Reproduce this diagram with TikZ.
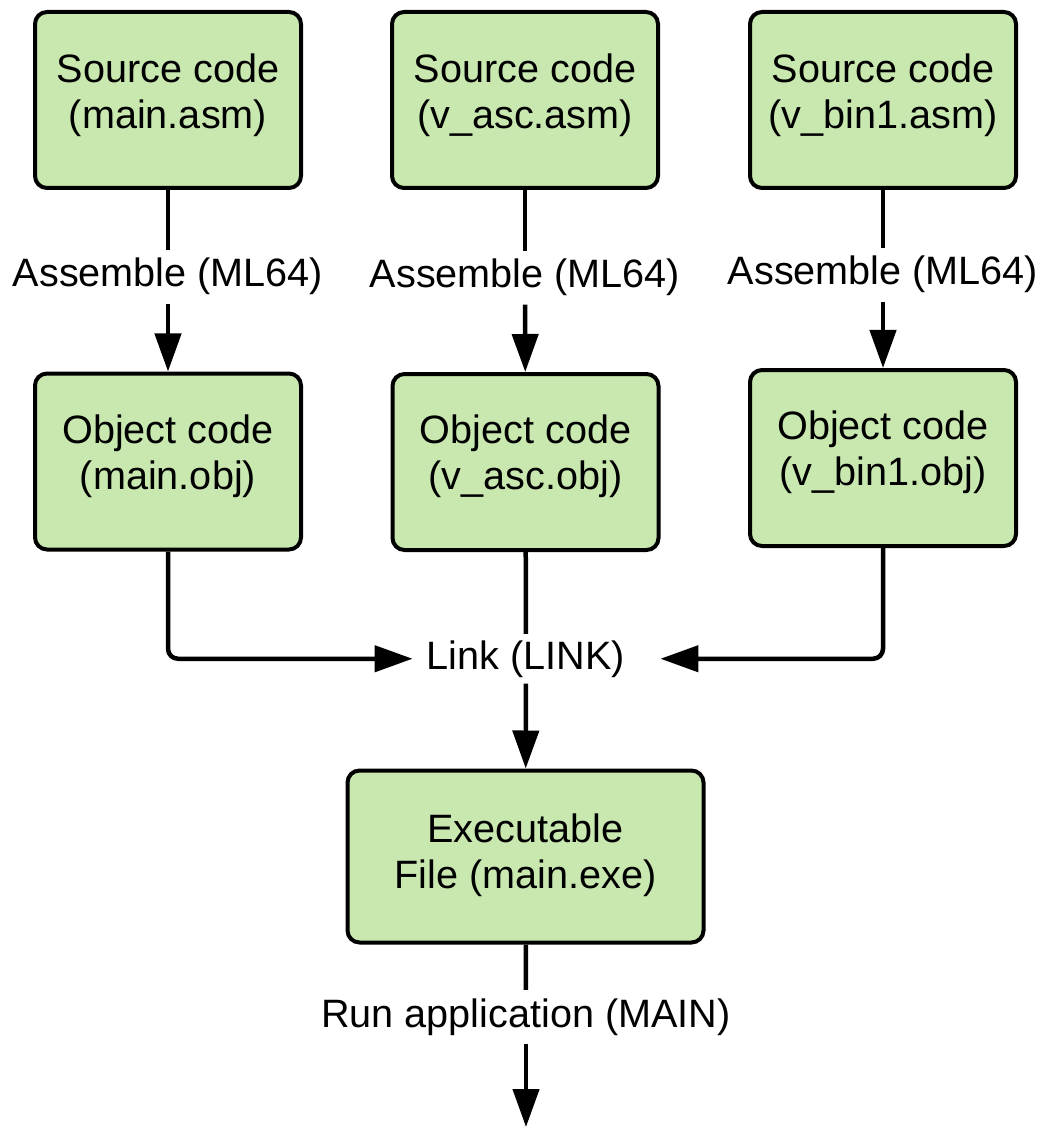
\documentclass[tikz,border=0pt]{standalone}
\usepackage{fontspec}
\setmainfont{Liberation Sans}
\usetikzlibrary{arrows.meta}
\definecolor{boxgreen}{RGB}{200,232,176}
\begin{document}
\begin{tikzpicture}[x=0.5pt,y=-0.5pt,
  font=\fontsize{19.8pt}{22.85pt}\selectfont,
  stagebox/.style={draw=black, line width=2pt, fill=boxgreen, rounded corners=6pt,
    minimum width=133pt, minimum height=88pt, inner sep=0pt},
  stagetext/.style={align=center, inner sep=0pt},
  steplabel/.style={anchor=base, inner xsep=2pt, inner ysep=4pt},
  conn/.style={line width=2.25pt},
  flow/.style={conn, -{Triangle[length=19pt,width=13pt]}}]
\useasboundingbox (0,0) rectangle (1044,1128);

% source files
\node[stagebox] (s1) at (168,100) {};
\node[stagebox] (s2) at (525,100) {};
\node[stagebox] (s3) at (883,100) {};
\node[stagetext] (s1t) at (168,95.5) {Source code\\(main.asm)};
\node[stagetext] (s2t) at (525,95.5) {Source code\\(v\_asc.asm)};
\node[stagetext] (s3t) at (883,95.5) {Source code\\(v\_bin1.asm)};

% object files
\node[stagebox] (o1) at (168,461.5) {};
\node[stagebox] (o2) at (525.5,462) {};
\node[stagebox, minimum height=88pt] (o3) at (883,458) {};
\node[stagetext] (o1t) at (168,456) {Object code\\(main.obj)};
\node[stagetext] (o2t) at (525.5,456.5) {Object code\\(v\_asc.obj)};
\node[stagetext] (o3t) at (883,452.5) {Object code\\(v\_bin1.obj)};

% executable
\node[stagebox, minimum width=178pt, minimum height=86pt] (ex) at (525.5,856.5) {};
\node[stagetext] (ext) at (525.5,855) {Executable\\File (main.exe)};

% step labels
\node[steplabel] (a1) at (168,287) {Assemble (ML64)};
\node[steplabel] (a2) at (525,288) {Assemble (ML64)};
\node[steplabel] (a3) at (883,285) {Assemble (ML64)};
\node[steplabel, inner xsep=7pt, inner ysep=3pt] (link) at (526,669) {Link (LINK)};
\node[steplabel] (run) at (526,1027) {Run application (MAIN)};
\coordinate (out) at (526,1127);

% assemble
\draw[conn] (s1) -- (a1);
\draw[flow] (a1) -- (o1);
\draw[conn] (s2) -- (a2);
\draw[flow] (a2) -- (o2);
\draw[conn] (s3) -- (a3);
\draw[flow] (a3) -- (o3);

% link
\draw[flow, rounded corners=5pt] (o1.south) |- (link.west);
\draw[flow, rounded corners=5pt, shorten >=10.5pt] (o3.south) |- (link.east);
\draw[conn] (o2) -- (link);
\draw[flow] (link) -- (ex);

% run
\draw[conn] (ex) -- (run);
\draw[flow] (run) -- (out);
\end{tikzpicture}
\end{document}
